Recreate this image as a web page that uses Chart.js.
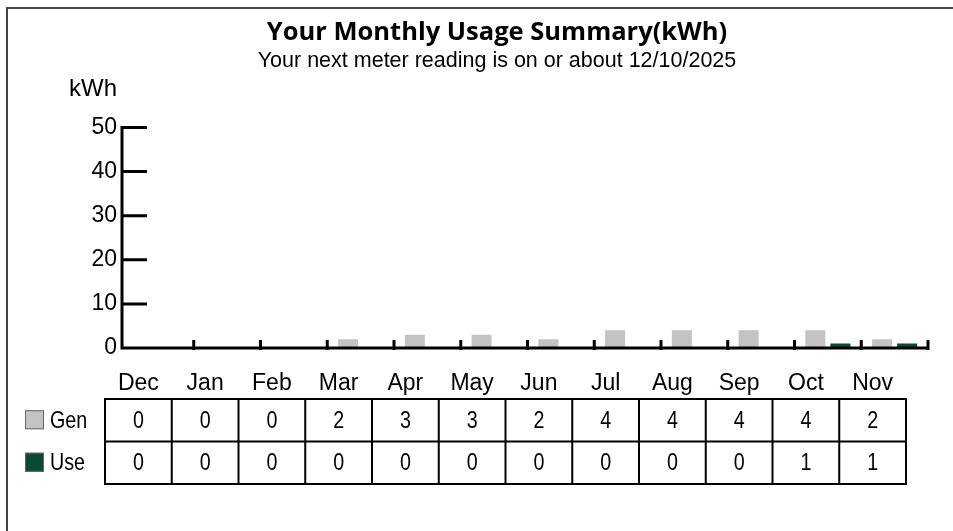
<!DOCTYPE html>
<html>
<head>
<meta charset="utf-8">
<script src="https://cdn.jsdelivr.net/npm/chart.js@4"></script>
<style>
  html, body { margin: 0; padding: 0; background: #fff; overflow: hidden; width: 953px; height: 531px; }
  #frame { position: absolute; left: 6px; top: 7px; width: 2000px; height: 2000px;
           border-top: 2px solid #444; border-left: 2px solid #444; }
  #myChart { position: absolute; left: 0; top: 0; }
</style>
</head>
<body>
<div id="frame"></div>
<canvas id="myChart" width="953" height="531"></canvas>
<script>
const months = ['Dec', 'Jan', 'Feb', 'Mar', 'Apr', 'May', 'Jun', 'Jul', 'Aug', 'Sep', 'Oct', 'Nov']
const genValues = [0, 0, 0, 2, 3, 3, 2, 4, 4, 4, 4, 2]
const useValues = [0, 0, 0, 0, 0, 0, 0, 0, 0, 0, 1, 1]
const yTicks = [0, 10, 20, 30, 40, 50]

const genColor = '#c3c3c3'
const useColor = '#0b4a32'
const arial = "'Liberation Sans', Arial, sans-serif"

const ctx = document.getElementById('myChart').getContext('2d')

// narrow text for the table (the original uses a condensed face)
function narrowText(c, txt, x, y) {
  c.save()
  c.translate(x, y)
  c.scale(0.82, 1)
  c.fillText(txt, 0, 0)
  c.restore()
}

// axis lines, inward ticks, kWh label and the data table
const decorations = {
  id: 'decorations',
  afterDraw(chart) {
    const c = chart.ctx
    const x = chart.scales.x
    const y = chart.scales.y
    const area = chart.chartArea
    const axisX = area.left - 5
    const y0 = y.getPixelForValue(0)
    const colW = (x.right - x.left) / months.length

    c.save()
    c.strokeStyle = '#000'
    c.lineWidth = 3
    c.lineCap = 'butt'
    c.beginPath()
    c.moveTo(axisX, y.getPixelForValue(50) - 1.5)
    c.lineTo(axisX, y0 + 1.5)
    c.moveTo(axisX, y0)
    c.lineTo(area.right + 1, y0)
    yTicks.forEach(v => {
      const py = y.getPixelForValue(v)
      c.moveTo(axisX, py)
      c.lineTo(axisX + 25, py)
    })
    for (let i = 1; i <= months.length; i++) {
      const px = x.getPixelForValue(i - 1) + colW / 2
      c.moveTo(px, y0 + 2)
      c.lineTo(px, y0 - 8)
    }
    c.stroke()

    c.fillStyle = '#000'
    c.font = '24px ' + arial
    c.textAlign = 'right'
    c.textBaseline = 'middle'
    c.fillText('kWh', y.right - 10, 89)

    // table
    const tLeft = x.left - 22
    const tTop = y0 + 51
    const rowH = 42.5
    c.lineWidth = 2
    c.strokeStyle = '#000'
    c.beginPath()
    for (let r = 0; r <= 2; r++) {
      c.moveTo(tLeft - 1, tTop + r * rowH)
      c.lineTo(tLeft + colW * months.length + 1, tTop + r * rowH)
    }
    for (let i = 0; i <= months.length; i++) {
      c.moveTo(tLeft + i * colW, tTop)
      c.lineTo(tLeft + i * colW, tTop + 2 * rowH)
    }
    c.stroke()

    const rows = [
      { name: 'Gen', color: genColor, data: genValues },
      { name: 'Use', color: useColor, data: useValues }
    ]
    c.font = '24px ' + arial
    c.textBaseline = 'middle'
    rows.forEach((row, r) => {
      const cy = tTop + r * rowH + rowH / 2
      c.textAlign = 'center'
      row.data.forEach((v, i) => {
        narrowText(c, String(v), tLeft + i * colW + colW / 2, cy + 1)
      })
      c.fillStyle = row.color
      c.fillRect(25, cy - 10, 19, 19)
      c.strokeStyle = '#666'
      c.lineWidth = 1
      c.strokeRect(25.5, cy - 9.5, 18, 18)
      c.fillStyle = '#000'
      c.textAlign = 'left'
      narrowText(c, row.name, 50, cy + 1)
    })
    c.restore()
  }
}

new Chart(ctx, {
  type: 'bar',
  data: {
    labels: months,
    datasets: [
      { label: 'Gen', data: genValues, backgroundColor: genColor, categoryPercentage: 0.75, barPercentage: 0.8 },
      { label: 'Use', data: useValues, backgroundColor: useColor, categoryPercentage: 0.75, barPercentage: 0.8 }
    ]
  },
  options: {
    responsive: false,
    animation: false,
    devicePixelRatio: 1,
    layout: { padding: { left: 66, right: 25, top: 0, bottom: 123 } },
    plugins: {
      legend: { display: false },
      tooltip: { enabled: false },
      title: {
        display: true,
        text: 'Your Monthly Usage Summary(kWh)',
        color: '#000',
        font: { family: "'Open Sans', sans-serif", weight: 'bold', size: 25.5 },
        padding: { top: 17, bottom: 0 }
      },
      subtitle: {
        display: true,
        text: 'Your next meter reading is on or about 12/10/2025',
        color: '#000',
        font: { family: arial, size: 21.5 },
        padding: { top: 1, bottom: 53 }
      }
    },
    scales: {
      x: {
        grid: { display: false, drawTicks: false },
        border: { display: false },
        ticks: { color: '#000', font: { family: arial, size: 23 }, padding: 22, labelOffset: -22, maxRotation: 0 },
        afterFit(scale) { scale.height = 60 }
      },
      y: {
        min: 0,
        max: 50,
        grid: { display: false, drawTicks: false },
        border: { display: false },
        ticks: { stepSize: 10, color: '#000', font: { family: arial, size: 23 }, padding: 10 },
        afterFit(scale) { scale.width = 61 }
      }
    }
  },
  plugins: [decorations]
})
</script>
</body>
</html>
